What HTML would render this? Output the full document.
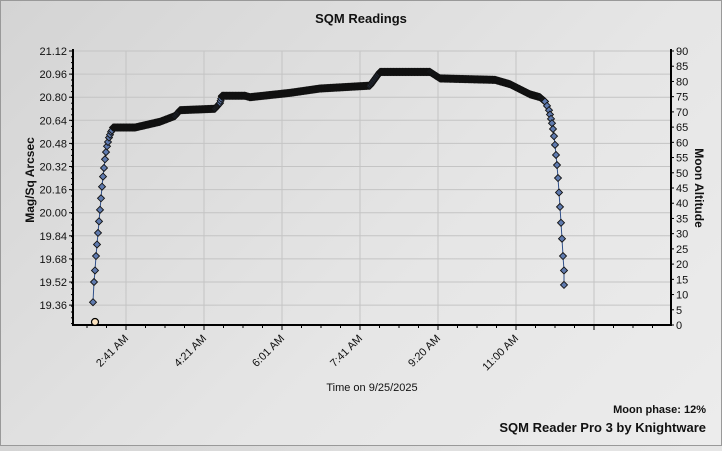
<!DOCTYPE html>
<html><head><style>
html,body{margin:0;padding:0;}
body{width:722px;height:446px;overflow:hidden;background:linear-gradient(135deg,#d4d4d4 0%,#e6e6e6 60%,#ececec 100%);font-family:"Liberation Sans",sans-serif;}
</style></head><body>
<svg width="722" height="446" xmlns="http://www.w3.org/2000/svg" font-family="Liberation Sans, sans-serif">
<rect x="0.5" y="0.5" width="721" height="445" fill="none" stroke="#999"/>
<text x="361" y="23" text-anchor="middle" font-size="13" font-weight="bold" fill="#111">SQM Readings</text>
<g id="grid" stroke="#c4c4c4" stroke-width="1"></g>
<g id="axes"></g>
<g id="data"></g>
<text transform="translate(34,180) rotate(-90)" text-anchor="middle" font-size="12" font-weight="bold" fill="#111">Mag/Sq Arcsec</text>
<text transform="translate(695,188) rotate(90)" text-anchor="middle" font-size="12" font-weight="bold" fill="#111">Moon Altitude</text>
<text x="372" y="391" text-anchor="middle" font-size="11" fill="#111">Time on 9/25/2025</text>
<text x="706" y="413" text-anchor="end" font-size="11" font-weight="bold" fill="#111">Moon phase: 12%</text>
<text x="706" y="432" text-anchor="end" font-size="13" font-weight="bold" fill="#111">SQM Reader Pro 3 by Knightware</text>
</svg>
<script>
const NS="http://www.w3.org/2000/svg";
function el(p,t,a,txt){const e=document.createElementNS(NS,t);for(const k in a)e.setAttribute(k,a[k]);if(txt!==undefined)e.textContent=txt;p.appendChild(e);return e;}
const g=document.getElementById('grid'),ax=document.getElementById('axes'),d=document.getElementById('data');
const L=73,R=671,T=51,B=325;
function ym(v){return T+(21.12-v)/0.16*23.1;}
const ylab=["21.12","20.96","20.80","20.64","20.48","20.32","20.16","20.00","19.84","19.68","19.52","19.36"];
ylab.forEach(s=>{const y=ym(+s);el(g,'line',{x1:L,x2:R,y1:y,y2:y});el(ax,'text',{x:L-6,y:y+4,'text-anchor':'end','font-size':11,fill:'#111'},s);el(ax,'line',{x1:L-4,x2:L,y1:y,y2:y,stroke:'#000'});});
for(let y=T;y<=B;y+=5.8)el(ax,'line',{x1:L-2,x2:L,y1:y,y2:y,stroke:'#000'});
for(let i=0;i<=18;i++){const y=B-i*(B-T)/18;el(ax,'text',{x:R+5,y:y+4,'font-size':11,fill:'#111'},String(i*5));el(ax,'line',{x1:R,x2:R+3,y1:y,y2:y,stroke:'#000'});}
const xl=["2:41 AM","4:21 AM","6:01 AM","7:41 AM","9:20 AM","11:00 AM",""];
xl.forEach((s,i)=>{const x=126+i*78;el(g,'line',{x1:x,x2:x,y1:T,y2:B});el(ax,'line',{x1:x,x2:x,y1:B,y2:B+5,stroke:'#000'});if(s)el(ax,'text',{transform:`translate(${x+3},${B+14}) rotate(-45)`,'text-anchor':'end','font-size':11,fill:'#111'},s);});
for(let x=126-78;x<R;x+=19.5)if(x>L)el(ax,'line',{x1:x,x2:x,y1:B,y2:B+3,stroke:'#000'});
el(ax,'line',{x1:L,x2:L,y1:T-2,y2:B+1,stroke:'#000','stroke-width':2});
el(ax,'line',{x1:R,x2:R,y1:T-2,y2:B+1,stroke:'#000','stroke-width':2});
el(ax,'line',{x1:L,x2:R,y1:B,y2:B,stroke:'#000','stroke-width':2});
const pts=[];
const rise=[[93,19.38],[94,19.52],[95,19.6],[96,19.7],[97,19.78],[98,19.86],[99,19.94],[100,20.02],[101,20.1],[102,20.18],[103,20.25],[104,20.31],[105,20.37],[106,20.42],[107,20.46],[108,20.49],[109,20.52],[110,20.54],[111,20.56],[112,20.57]];
rise.forEach(p=>pts.push(p));
const seg=[[113,20.59],[135,20.59],[160,20.63],[175,20.67],[180,20.71],[215,20.72],[220,20.76],[222,20.81],[245,20.81],[250,20.80],[290,20.83],[320,20.86],[370,20.88],[380,20.975],[430,20.975],[440,20.93],[495,20.92],[510,20.89],[530,20.82],[540,20.8],[545,20.77]];
for(let i=0;i<seg.length-1;i++){const[a,b]=[seg[i],seg[i+1]];for(let x=a[0];x<b[0];x+=0.6)pts.push([x,a[1]+(b[1]-a[1])*(x-a[0])/(b[0]-a[0])]);}
const fall=[[545,20.77],[547,20.74],[549,20.71],[550,20.68],[551,20.65],[552,20.62],[553,20.58],[554,20.53],[555,20.47],[556,20.4],[557,20.33],[558,20.24],[559,20.14],[560,20.04],[561,19.93],[562,19.82],[563,19.7],[564,19.6],[564,19.5]];
fall.forEach(p=>pts.push(p));
el(d,'polyline',{points:pts.map(p=>p[0]+','+ym(p[1]).toFixed(1)).join(' '),fill:'none',stroke:'#30508a','stroke-width':1});
pts.forEach(p=>{const x=p[0],y=ym(p[1]);el(d,'polygon',{points:`${x},${y-3.5} ${x+3.5},${y} ${x},${y+3.5} ${x-3.5},${y}`,fill:'#5f7aae',stroke:'#111','stroke-width':0.9});});
el(d,'circle',{cx:95,cy:322,r:3.5,fill:'#fde4c0',stroke:'#000','stroke-width':1.2});
</script>
</body></html>
